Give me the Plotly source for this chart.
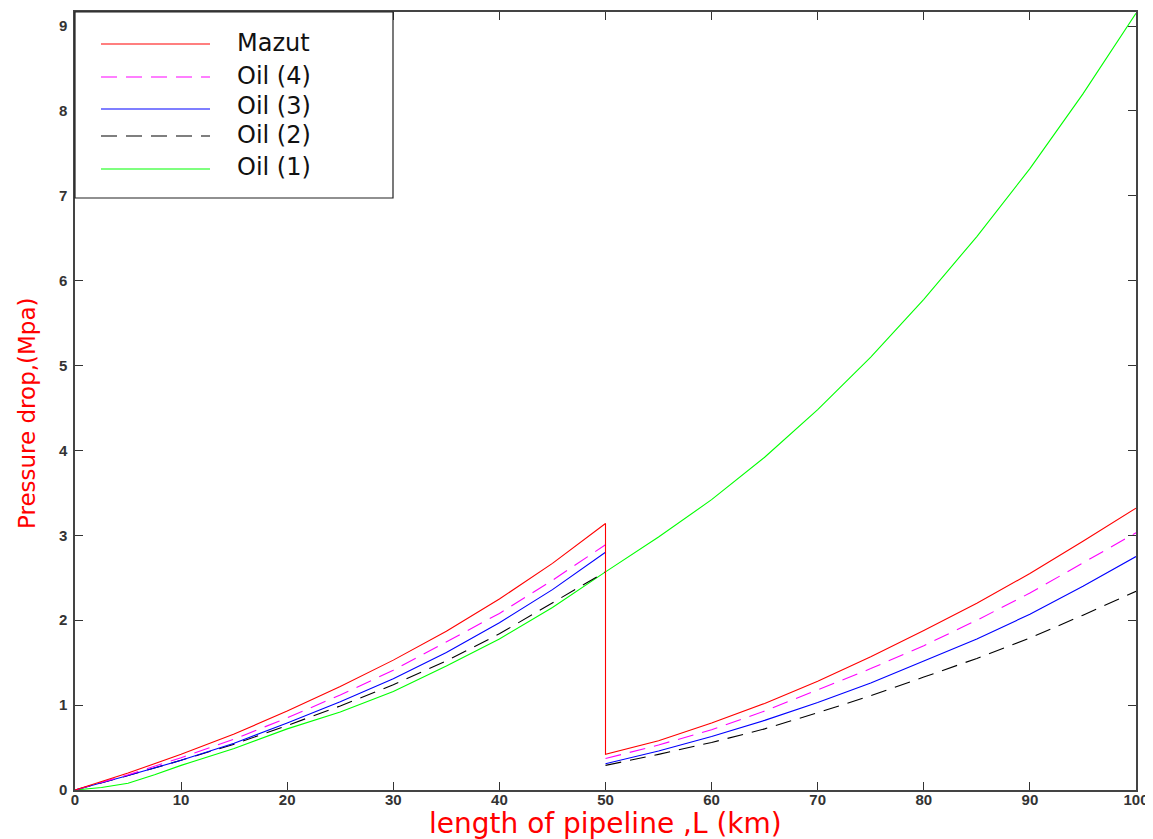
import plotly.graph_objects as go

# ---- data ----
# shared x grid for the 2-stage curves (50 km appears twice: end of stage 1, start of stage 2)
x_km = [0, 5, 10, 15, 20, 25, 30, 35, 40, 45, 50,
        50, 55, 60, 65, 70, 75, 80, 85, 90, 95, 100]
mazut = [0, 0.20, 0.42, 0.66, 0.93, 1.22, 1.53, 1.87, 2.25, 2.67, 3.14,
         0.42, 0.58, 0.79, 1.02, 1.28, 1.57, 1.88, 2.20, 2.55, 2.93, 3.32]
oil4 = [0, 0.18, 0.38, 0.60, 0.85, 1.12, 1.41, 1.74, 2.08, 2.47, 2.89,
        0.37, 0.53, 0.71, 0.93, 1.18, 1.43, 1.70, 2.00, 2.32, 2.67, 3.03]
oil3 = [0, 0.17, 0.35, 0.55, 0.79, 1.04, 1.31, 1.62, 1.97, 2.36, 2.80,
        0.31, 0.46, 0.63, 0.82, 1.03, 1.26, 1.52, 1.78, 2.07, 2.40, 2.75]
oil2 = [0, 0.17, 0.35, 0.54, 0.76, 0.99, 1.24, 1.52, 1.84, 2.20, 2.57,
        0.29, 0.42, 0.56, 0.72, 0.91, 1.11, 1.33, 1.55, 1.79, 2.06, 2.34]
# Oil (1) is one continuous curve
x_oil1 = [0, 2.5, 5, 7.5, 10, 15, 20, 25, 30, 35, 40, 45, 50,
          55, 60, 65, 70, 75, 80, 85, 90, 95, 100]
oil1 = [0, 0.03, 0.08, 0.18, 0.29, 0.49, 0.72, 0.92, 1.16, 1.46, 1.78, 2.15, 2.57,
        2.98, 3.42, 3.92, 4.48, 5.10, 5.78, 6.52, 7.32, 8.20, 9.15]

names = ["Mazut", "Oil (4)", "Oil (3)", "Oil (2)", "Oil (1)"]
colors = ["#ff0000", "#ff00ff", "#0000ff", "#000000", "#00ff00"]
dashes = ["solid", "16px,9px", "solid", "16px,9px", "solid"]
x_ticks = [0, 10, 20, 30, 40, 50, 60, 70, 80, 90, 100]
y_ticks = [0, 1, 2, 3, 4, 5, 6, 7, 8, 9]
x_title = "length of pipeline ,L (km)"
y_title = "Pressure drop,(Mpa)"


def split_at_jump(xs, ys):
    """Break a two-stage series at the 50 km restart (no vertical joining line)."""
    return xs[:11] + [None] + xs[11:], ys[:11] + [None] + ys[11:]


traces = []
for name, xs, ys in [("Mazut", x_km, mazut), ("Oil (4)", x_km, oil4),
                     ("Oil (3)", x_km, oil3), ("Oil (2)", x_km, oil2),
                     ("Oil (1)", x_oil1, oil1)]:
    if name not in ("Mazut", "Oil (1)"):
        xs, ys = split_at_jump(xs, ys)
    traces.append((name, xs, ys))

fig = go.Figure()
# draw Oil (1) first and Mazut last so the red jump lies on top
for i in reversed(range(5)):
    name, xs, ys = traces[i]
    fig.add_trace(go.Scatter(
        x=xs, y=ys, mode="lines", name=name, connectgaps=False,
        line=dict(color=colors[i], width=1.1, dash=dashes[i]),
        showlegend=False,
    ))

# ---- geometry (page pixels; the page body has an 8px margin) ----
W, H = 1145, 831
L, R, T, B = 67, 17, 4, 49
PX0, PX1, PY0, PY1 = 75, 1136, 12, 790   # plot area in page pixels


def px2paper(px, py):
    return (px - PX0) / (PX1 - PX0), (PY1 - py) / (PY1 - PY0)


# ---- custom legend box (MATLAB style, long line samples) ----
x0, y0 = px2paper(75, 12)
x1, y1 = px2paper(393, 198)
fig.add_shape(type="rect", xref="paper", yref="paper", x0=x0, y0=y1, x1=x1, y1=y0,
              line=dict(color="#222222", width=1.2), fillcolor="white", layer="above")
line_py = [44, 77, 109, 136, 169]
text_py = [43, 76, 106, 135, 167]
for i in range(5):
    ax0, ay = px2paper(101, line_py[i])
    ax1, _ = px2paper(210, line_py[i])
    fig.add_shape(type="line", xref="paper", yref="paper", x0=ax0, x1=ax1, y0=ay, y1=ay,
                  line=dict(color=colors[i], width=1.2, dash=dashes[i]), layer="above")
    tx, ty = px2paper(235, text_py[i])
    fig.add_annotation(x=tx, y=ty, xref="paper", yref="paper", text=names[i],
                       showarrow=False, xanchor="left", yanchor="middle",
                       font=dict(family="DejaVu Sans", size=24, color="#111111"))

# ---- axis titles ----
tx, ty = px2paper(605, 805)
fig.add_annotation(x=tx, y=ty, xref="paper", yref="paper", text=x_title,
                   showarrow=False, xanchor="center", yanchor="top",
                   font=dict(family="DejaVu Sans", size=28, color="#ff0000"))
tx, ty = px2paper(27, 413)
fig.add_annotation(x=tx, y=ty, xref="paper", yref="paper", text=y_title,
                   showarrow=False, xanchor="center", yanchor="middle", textangle=-90,
                   font=dict(family="DejaVu Sans", size=23, color="#ff0000"))

axis_common = dict(
    showgrid=False, zeroline=False, showline=True, linecolor="#444444", linewidth=1.5,
    mirror="ticks", ticks="inside", ticklen=8, tickwidth=1.2, tickcolor="#333333",
    automargin=False,
    tickfont=dict(family="Liberation Sans, Arial", size=15, color="#333333", weight="bold"),
)

fig.update_layout(
    width=W, height=H,
    margin=dict(l=L, r=R, t=T, b=B, autoexpand=False),
    paper_bgcolor="white", plot_bgcolor="white",
    showlegend=False,
    xaxis=dict(range=[0, 100], tickvals=x_ticks, ticklabelstandoff=-5, **axis_common),
    yaxis=dict(range=[0, 9.165], tickvals=y_ticks, ticklabelstandoff=3, **axis_common),
)

fig.write_html("out.html")
